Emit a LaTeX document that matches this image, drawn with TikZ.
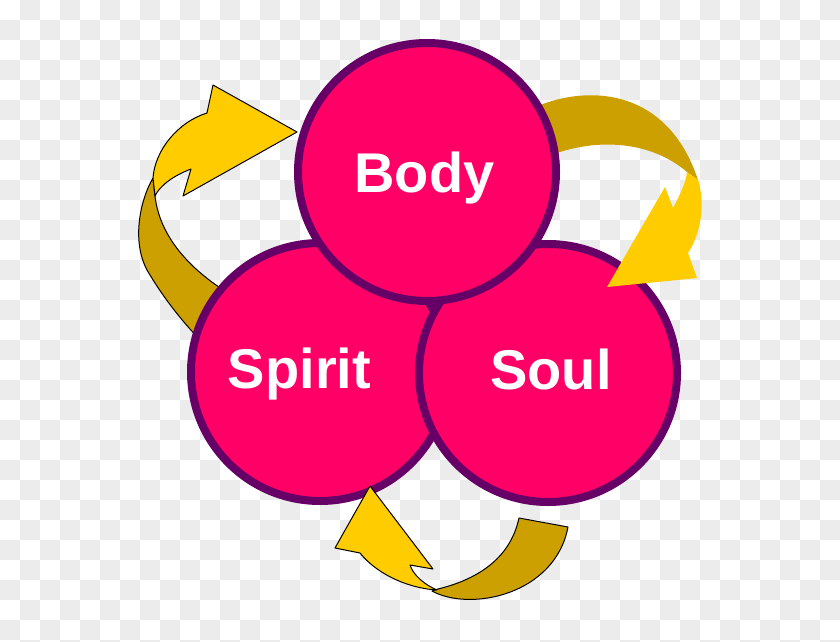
\documentclass[tikz,border=0pt]{standalone}
\usepackage{fontspec}
\setmainfont{Liberation Sans}
\definecolor{pinkfill}{HTML}{FF0066}
\definecolor{purpleline}{HTML}{660066}
\definecolor{goldlight}{HTML}{FFCC00}
\definecolor{golddark}{HTML}{CCA000}
\definecolor{checker}{HTML}{ECECEC}
\begin{document}
\begin{tikzpicture}[x=1pt,y=-1pt,
  ball/.style={circle, draw=purpleline, line width=8pt, fill=pinkfill, minimum size=258pt, inner sep=0pt},
  lbl/.style={text=white, font=\bfseries\fontsize{56}{60}\selectfont, inner sep=0pt, anchor=base},
  outl/.style={draw=black, line width=1pt, line join=round},
  darkpart/.style={fill=golddark},
  lightpart/.style={fill=goldlight}]
\useasboundingbox (0,0) rectangle (840,642);
\begin{scope}
\clip (0,0) rectangle (840,642);
\fill[white] (0,0) rectangle (840,642);
\foreach \i in {0,...,41} {
  \foreach \j in {0,...,32} {
    \pgfmathtruncatemacro\p{mod(\i+\j,2)}
    \ifnum\p=1 \fill[checker] (\i*20,\j*20) rectangle ++(20,20); \fi
  }
}
\end{scope}

% dark bands behind circles
\path[darkpart, outl] (155,196) .. controls (160,240) and (195,275) .. (240,300)
  -- (205,345) .. controls (185,325) and (165,300) .. (150,275)
  .. controls (130,245) and (140,200) .. (153,178) -- cycle;
\path[darkpart] (525,112) .. controls (575,85) and (665,80) .. (698,180)
  -- (687,172) .. controls (650,140) and (590,135) .. (535,162) -- cycle;

% circles
\node[ball] (spirit) at (320,372) {};
\node[ball] (soul) at (548,373) {};
\node[ball] (body) at (427,172) {};

\node[lbl] (tbody) at (424.5,192) {Body};
\node[lbl] (tspirit) at (299.5,388) {Spirit};
\node[lbl] (tsoul) at (551,389) {Soul};

% left arrow head
\path[lightpart, outl] (153,178) .. controls (155,150) and (178,122) .. (207,113)
  -- (213,85) -- (297,132) -- (183,196) -- (191,169)
  .. controls (175,175) and (160,185) .. (155,196) -- cycle;

% right arrow head
\path[lightpart] (698,180) .. controls (706,205) and (700,235) .. (688,253)
  -- (697,278) -- (607,287) -- (665,187) -- (673,208)
  .. controls (680,195) and (686,182) .. (687,172) -- cycle;

% bottom arrow
\path[darkpart, outl] (432,591) .. controls (470,612) and (555,595) .. (568,527)
  -- (519,518) .. controls (510,560) and (475,580) .. (438,589) -- cycle;
\path[lightpart, outl] (370,486) -- (335,548) -- (360,553)
  .. controls (375,572) and (405,588) .. (437,590)
  .. controls (425,585) and (413,575) .. (410,565)
  -- (433,569) -- cycle;
\end{tikzpicture}
\end{document}
